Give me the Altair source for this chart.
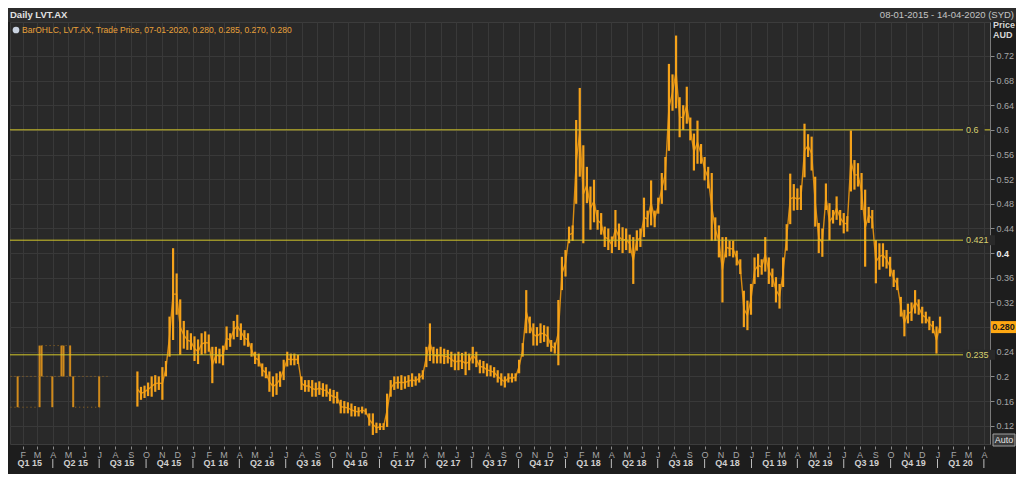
import altair as alt
import pandas as pd

# ---------------- data ----------------
WEEK_START = "2015-09-14"   # weekly bars (high / low envelope), Monday weeks
weekly_high = [
    .208, .183, .185, .19, .2, .202, .2, .215, .225, .297,
    .408, .367, .325, .29, .275, .27, .265, .26, .27, .273,
    .268, .248, .248, .245, .25, .281, .27, .29, .30, .286,
    .275, .27, .254, .24, .237, .221, .215, .208, .2, .205,
    .208, .227, .24, .237, .237, .235, .2, .194, .194, .194,
    .19, .192, .189, .187, .18, .178, .175, .162, .16, .158,
    .156, .152, .15, .151, .148, .14, .14, .125, .124, .124,
    .172, .194, .2, .2, .202, .2, .202, .205, .2, .205,
    .21, .248, .286, .248, .245, .248, .245, .243, .24, .237,
    .24, .238, .24, .237, .248, .24, .227, .225, .221, .218,
    .215, .21, .205, .2, .205, .205, .205, .227, .254, .34,
    .297, .286, .28, .286, .283, .281, .259, .255, .324, .394,
    .405, .443, .445, .616, .668, .575, .54, .508, .519, .47,
    .465, .443, .44, .427, .47, .448, .442, .44, .43, .426,
    .437, .44, .49, .469, .518, .469, .49, .53, .556, .707,
    .69, .753, .653, .64, .67, .62, .594, .615, .577, .556,
    .54, .53, .458, .445, .426, .426, .42, .42, .404, .39,
    .339, .323, .35, .393, .399, .39, .426, .393, .375, .361,
    .35, .393, .447, .529, .512, .505, .51, .61, .593, .589,
    .524, .449, .44, .513, .481, .47, .492, .47, .465, .46,
    .599, .551, .546, .53, .503, .475, .47, .421, .416, .416,
    .405, .394, .373, .36, .329, .308, .318, .32, .34, .325,
    .313, .305, .297, .29, .281, .297,
]
weekly_low = [
    .151, .162, .165, .168, .167, .175, .178, .162, .2, .232,
    .259, .30, .235, .245, .243, .243, .225, .22, .235, .237,
    .24, .189, .221, .221, .218, .243, .248, .26, .264, .259,
    .25, .248, .232, .22, .216, .2, .197, .175, .167, .17,
    .183, .194, .216, .218, .218, .22, .178, .175, .175, .167,
    .167, .17, .167, .167, .16, .156, .156, .14, .14, .14,
    .135, .135, .135, .14, .138, .12, .105, .108, .113, .113,
    .118, .167, .178, .18, .178, .18, .183, .183, .185, .19,
    .195, .215, .225, .221, .221, .221, .22, .221, .215, .21,
    .21, .212, .202, .21, .221, .215, .205, .205, .2, .2,
    .198, .19, .185, .182, .19, .19, .192, .205, .232, .27,
    .27, .25, .25, .254, .256, .248, .24, .237, .218, .34,
    .362, .416, .42, .48, .524, .416, .481, .438, .45, .438,
    .43, .41, .405, .4, .41, .405, .4, .405, .4, .35,
    .404, .41, .426, .442, .445, .442, .464, .48, .502, .566,
    .631, .635, .588, .6, .61, .583, .534, .545, .545, .518,
    .505, .42, .42, .393, .32, .393, .395, .393, .38, .366,
    .28, .275, .3, .35, .361, .365, .37, .35, .345, .32,
    .31, .345, .404, .447, .469, .47, .47, .523, .556, .534,
    .443, .4, .394, .47, .421, .448, .454, .445, .432, .435,
    .5, .503, .508, .47, .378, .449, .44, .351, .373, .378,
    .375, .362, .345, .34, .297, .265, .286, .29, .302, .3,
    .286, .286, .275, .27, .237, .27,
]

# illiquid first half of 2015: isolated trade bars and flat (no-trade) levels
early_dates = ["2015-01-22", "2015-03-06", "2015-03-10", "2015-03-31", "2015-04-18",
               "2015-04-22", "2015-05-05", "2015-05-11", "2015-07-01"]
early_high = [0.20, 0.25, 0.25, 0.20, 0.25, 0.25, 0.25, 0.20, 0.20]
early_low = [0.15, 0.15, 0.20, 0.15, 0.20, 0.20, 0.20, 0.15, 0.15]
flat_start = ["2015-01-08", "2015-01-08", "2015-03-10", "2015-05-15"]
flat_end = ["2015-07-22", "2015-03-01", "2015-05-09", "2015-07-03"]
flat_level = [0.20, 0.15, 0.25, 0.15]

levels = [0.6, 0.421, 0.235]
level_labels = ["0.6", "0.421", "0.235"]
last_close = 0.28
last_close_label = "0.280"
y_ticks = [0.12, 0.16, 0.20, 0.24, 0.28, 0.32, 0.36, 0.40, 0.44, 0.48,
           0.52, 0.56, 0.60, 0.64, 0.68, 0.72]
quarter_labels = ["Q1 15", "Q2 15", "Q3 15", "Q4 15", "Q1 16", "Q2 16", "Q3 16", "Q4 16",
                  "Q1 17", "Q2 17", "Q3 17", "Q4 17", "Q1 18", "Q2 18", "Q3 18", "Q4 18",
                  "Q1 19", "Q2 19", "Q3 19", "Q4 19", "Q1 20"]
title_text = "Daily LVT.AX"
range_text = "08-01-2015 - 14-04-2020 (SYD)"
legend_text = "BarOHLC, LVT.AX, Trade Price, 07-01-2020, 0.280, 0.285, 0.270, 0.280"

# ---------------- tables ----------------
weeks = pd.date_range(WEEK_START, periods=len(weekly_high), freq="7D")
bars = pd.DataFrame({"date": weeks.strftime("%Y-%m-%d"), "low": weekly_low, "high": weekly_high})
early = pd.DataFrame({"date": early_dates, "low": early_low, "high": early_high})
flats = pd.DataFrame({"date": flat_start, "date2": flat_end, "low": flat_level})
lev = pd.DataFrame({"low": levels, "label": level_labels})


def q_start(lab):
    q = int(lab[1]); yr = 2000 + int(lab[3:])
    return pd.Timestamp(year=yr, month=3 * (q - 1) + 1, day=1)


quarters = pd.DataFrame({"date": [(q_start(l) + pd.Timedelta(days=45)).strftime("%Y-%m-%d") for l in quarter_labels],
                         "label": quarter_labels})
seps = pd.DataFrame({"date": [q_start(l).strftime("%Y-%m-%d") for l in quarter_labels[1:]] + ["2020-04-01"]})
month_starts = pd.date_range("2015-02-01", "2020-04-01", freq="MS")
month_vals = [alt.DateTime(year=int(d.year), month=int(d.month), date=1) for d in month_starts]

one = pd.DataFrame({"a": [0]})

# ---------------- layout ----------------
W, H = 980, 422
FONT = "Liberation Sans"
ORANGE = "#f5a21a"
YELLOW = "#d2c62a"

xscale = alt.Scale(domain=[alt.DateTime(year=2015, month=1, date=7),
                           alt.DateTime(year=2020, month=4, date=13)])
yscale = alt.Scale(domain=[0.0903, 0.775], nice=False, zero=False)
xaxis = alt.Axis(values=month_vals, title=None, grid=True, gridColor="#393939",
                 labelExpr="substring(timeFormat(datum.value, '%B'), 0, 1)",
                 labelColor="#a6a6a6", labelFontSize=9, labelFont=FONT, labelPadding=1,
                 tickSize=3, tickColor="#8a8a8a", domain=False, offset=2,
                 labelOverlap=False, labelFlush=False)
yaxis = alt.Axis(orient="right", values=y_ticks, title=None, grid=True,
                 labelExpr="abs(datum.value-0.28)<1e-6 ? '' : format(datum.value, '.2~f')",
                 gridColor="#393939", labelColor=alt.expr("abs(datum.value-0.4)<1e-6 ? '#ececec' : '#a6a6a6'"),
                 labelFontWeight=alt.expr("abs(datum.value-0.4)<1e-6 ? 'bold' : 'normal'"),
                 labelFontSize=9, labelFont=FONT, labelPadding=2, tickSize=4,
                 tickColor="#8a8a8a", domainColor="#7a7a7a", labelOverlap=False, labelFlush=False)

X = lambda f="date": alt.X(f"{f}:T", scale=xscale, axis=xaxis)
Y = lambda f="low": alt.Y(f"{f}:Q", scale=yscale, axis=yaxis)

header_bg = alt.Chart(one).mark_rect(color="#2c2c2c").encode(
    x=alt.value(-2), x2=alt.value(W + 26), y=alt.value(-14), y2=alt.value(0))

mid_line = alt.Chart(bars).transform_calculate(mid="(datum.low + datum.high) / 2").mark_line(
    strokeWidth=1.4, color="#d98c12").encode(x=X(), y=Y("mid"))
main = alt.Chart(bars).mark_rule(strokeWidth=2.2, color=ORANGE).encode(
    x=X(), y=Y(), y2="high:Q")
early_bars = alt.Chart(early).mark_rule(strokeWidth=2, color="#d08a1c").encode(
    x=X(), y=Y(), y2="high:Q")
flat_lines = alt.Chart(flats).mark_rule(strokeWidth=1, color="#9a6a20", strokeDash=[1, 3]).encode(
    x=X(), x2="date2:T", y=Y())

level_lines = alt.Chart(lev).mark_rule(color=YELLOW, strokeWidth=1).encode(y=Y())
level_bgs = []
for v, lab in zip(levels, level_labels):
    wbg = 6 + 5.2 * len(lab)
    level_bgs.append(alt.Chart(pd.DataFrame({"low": [v]})).mark_rule(color="#292929", strokeWidth=10).encode(
        y=Y(), x=alt.value(W - 27), x2=alt.value(W - 27 + wbg)))
level_text = alt.Chart(lev).mark_text(align="left", baseline="middle", font=FONT, fontSize=9,
                                      color="#d6cf6e").encode(
    y=Y(), x=alt.value(W - 24), text="label:N")

q_text = alt.Chart(quarters).mark_text(font=FONT, fontSize=9, fontWeight="bold", color="#cfcfcf",
                                       baseline="middle").encode(
    x=X(), y=alt.value(H + 19), text="label:N")
sep_marks = alt.Chart(seps).mark_rule(color="#bdbdbd", strokeWidth=1).encode(
    x=X(), y=alt.value(H + 15), y2=alt.value(H + 24))

close_box = alt.Chart(pd.DataFrame({"low": [last_close]})).mark_rule(color="#ffa812", strokeWidth=12).encode(
    y=Y(), x=alt.value(W + 1), x2=alt.value(W + 26))
close_text = alt.Chart(pd.DataFrame({"low": [last_close], "t": [last_close_label]})).mark_text(
    font=FONT, fontSize=9, fontWeight="bold", color="#1a1a1a", baseline="middle").encode(
    y=Y(), x=alt.value(W + 13.5), text="t:N")

price_lbl = alt.Chart(one).mark_text(font=FONT, fontSize=9, fontWeight="bold", color="#d6d6d6",
                                     align="left", baseline="middle").encode(
    x=alt.value(W + 3), y=alt.value(3), text=alt.value("Price"))
aud_lbl = alt.Chart(one).mark_text(font=FONT, fontSize=9, fontWeight="bold", color="#d6d6d6",
                                   align="left", baseline="middle").encode(
    x=alt.value(W + 3), y=alt.value(13), text=alt.value("AUD"))
auto_box = alt.Chart(one).mark_rect(fill="#3a3a3a", stroke="#a0a0a0", strokeWidth=1).encode(
    x=alt.value(W + 3), x2=alt.value(W + 25), y=alt.value(H - 10), y2=alt.value(H + 2))
auto_lbl = alt.Chart(one).mark_text(font=FONT, fontSize=9, color="#e6e6e6", baseline="middle").encode(
    x=alt.value(W + 14), y=alt.value(H - 4), text=alt.value("Auto"))

title_lbl = alt.Chart(one).mark_text(font=FONT, fontSize=9.5, fontWeight="bold", color="#e2e2e2",
                                     align="left", baseline="middle").encode(
    x=alt.value(0), y=alt.value(-7), text=alt.value(title_text))
range_lbl = alt.Chart(one).mark_text(font=FONT, fontSize=9.5, color="#c4c4c4",
                                     align="right", baseline="middle").encode(
    x=alt.value(W + 24), y=alt.value(-7), text=alt.value(range_text))
icon = alt.Chart(one).mark_point(shape="circle", filled=True, size=45, color="#c9d2e0", opacity=1).encode(
    x=alt.value(6), y=alt.value(8))
legend_lbl = alt.Chart(one).mark_text(font=FONT, fontSize=8.5, color="#eaa23a",
                                      align="left", baseline="middle").encode(
    x=alt.value(12), y=alt.value(8), text=alt.value(legend_text))

chart = alt.layer(
    header_bg, mid_line, main, early_bars, flat_lines, level_lines, *level_bgs, level_text,
    q_text, sep_marks, close_box, close_text, price_lbl, aud_lbl, auto_box, auto_lbl,
    title_lbl, range_lbl, icon, legend_lbl,
).properties(
    width=W, height=H,
    autosize=alt.AutoSizeParams(type="none"),
    padding={"left": 2, "top": 14, "right": 26, "bottom": 30},
    background="#1d1d1d",
).configure_view(fill="#292929", stroke="#3c3c3c")

chart.save("out.html", embed_options={"renderer": "svg", "actions": False})
